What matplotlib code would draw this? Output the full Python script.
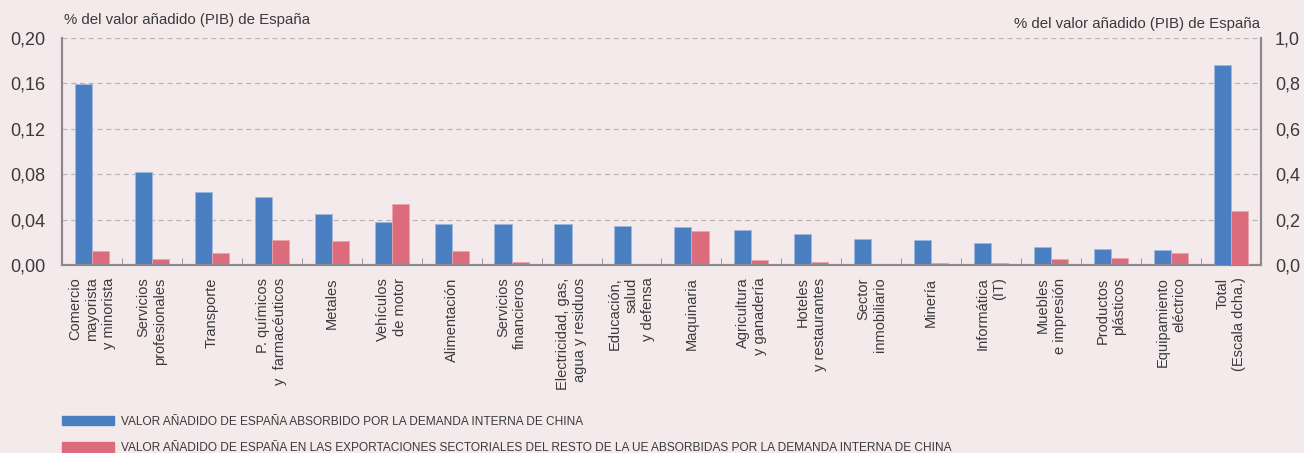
import matplotlib
matplotlib.use('Agg')
import matplotlib.pyplot as plt
from matplotlib.patches import Patch
import numpy as np

# datos (% del valor añadido de España)
sectores = [
    "Comercio\nmayorista\ny minorista",
    "Servicios\nprofesionales",
    "Transporte",
    "P. químicos\ny  farmacéuticos",
    "Metales",
    "Vehículos\nde motor",
    "Alimentación",
    "Servicios\nfinancieros",
    "Electricidad, gas,\nagua y residuos",
    "Educación,\nsalud\ny defensa",
    "Maquinaria",
    "Agricultura\ny ganadería",
    "Hoteles\ny restaurantes",
    "Sector\ninmobiliario",
    "Minería",
    "Informática\n(IT)",
    "Muebles\ne impresión",
    "Productos\nplásticos",
    "Equipamiento\neléctrico",
    "Total\n(Escala dcha.)",
]
va_china = [0.1594, 0.0821, 0.0641, 0.0600, 0.0450, 0.0382, 0.0362, 0.0362, 0.0359,
            0.0347, 0.0332, 0.0309, 0.0274, 0.0229, 0.0218, 0.0197, 0.0156, 0.0141, 0.0135]
va_ue = [0.0124, 0.0053, 0.0103, 0.0220, 0.0212, 0.0538, 0.0124, 0.0026, 0.0006,
         0.0009, 0.0297, 0.0044, 0.0026, 0.0, 0.0020, 0.0018, 0.0056, 0.0065, 0.0106]
total_china = 0.882
total_ue = 0.240

legend_labels = [
    "VALOR AÑADIDO DE ESPAÑA ABSORBIDO POR LA DEMANDA INTERNA DE CHINA",
    "VALOR AÑADIDO DE ESPAÑA EN LAS EXPORTACIONES SECTORIALES DEL RESTO DE LA UE ABSORBIDAS POR LA DEMANDA INTERNA DE CHINA",
]

azul = '#4a7fc1'
rojo = '#dc6c7c'
fondo = '#f5eaeb'
gris = '#8a8a8e'
texto = '#3a3a3a'

plt.rcParams['font.family'] = ['Liberation Sans', 'DejaVu Sans']

fig = plt.figure(figsize=(13.04, 4.53), dpi=100, facecolor=fondo)
ax = fig.add_axes([0.0475, 0.415, 0.9195, 0.501])
ax.set_facecolor(fondo)
ax2 = ax.twinx()

n = len(sectores)
x = np.arange(n)
w = 0.285
ax.bar(x[:-1] - w / 2, va_china, w, color=azul, edgecolor='#9fb8dc', linewidth=0.6, zorder=3)
ax.bar(x[:-1] + w / 2, va_ue, w, color=rojo, edgecolor='#eaa3ad', linewidth=0.6, zorder=3)
ax2.bar(x[-1] - w / 2, total_china, w, color=azul, edgecolor='#9fb8dc', linewidth=0.6, zorder=3)
ax2.bar(x[-1] + w / 2, total_ue, w, color=rojo, edgecolor='#eaa3ad', linewidth=0.6, zorder=3)

ax.set_xlim(-0.5, n - 0.5)
ax.set_ylim(0, 0.20)
ax2.set_ylim(0, 1.0)
ax.set_yticks(np.arange(0, 0.201, 0.04))
ax.set_yticklabels([f"{v:.2f}".replace('.', ',') for v in np.arange(0, 0.201, 0.04)])
ax2.set_yticks(np.arange(0, 1.01, 0.2))
ax2.set_yticklabels([f"{v:.1f}".replace('.', ',') for v in np.arange(0, 1.01, 0.2)])

ax.grid(axis='y', linestyle=(0, (4, 3)), color='#b5b5b5', linewidth=0.9, zorder=0)
ax.set_axisbelow(True)

ax.set_xticks(x)
ax.set_xticklabels(sectores, rotation=90, rotation_mode='anchor', ha='right', va='center',
                   multialignment='right', fontsize=10.5, color=texto, linespacing=1.25)
ax.tick_params(axis='x', length=0, pad=9)
ax.set_xticks(np.arange(0.5, n - 1, 1), minor=True)
ax.tick_params(axis='x', which='minor', direction='in', length=5, color=gris)

for a in (ax, ax2):
    a.tick_params(axis='y', length=0, labelsize=13, colors=texto)
    for s in a.spines.values():
        s.set_color(gris)
        s.set_linewidth(1.5)
    a.spines['top'].set_visible(False)
ax.tick_params(axis='y', pad=12)
ax2.tick_params(axis='y', pad=10)

fig.text(0.049, 0.955, "% del valor añadido (PIB) de España", fontsize=10.8, color=texto,
         ha='left', va='center')
fig.text(0.966, 0.948, "% del valor añadido (PIB) de España", fontsize=10.8, color=texto,
         ha='right', va='center')

handles = [Patch(color=azul), Patch(color=rojo)]
leg = fig.legend(handles, legend_labels, loc='lower left', bbox_to_anchor=(0.039, -0.026),
                 frameon=False, ncol=1, handlelength=4.4, handleheight=0.85, handletextpad=0.6,
                 labelspacing=1.2, prop={'size': 8.6})
for t in leg.get_texts():
    t.set_color(texto)

fig.savefig('out.png', dpi=100, facecolor=fondo)
